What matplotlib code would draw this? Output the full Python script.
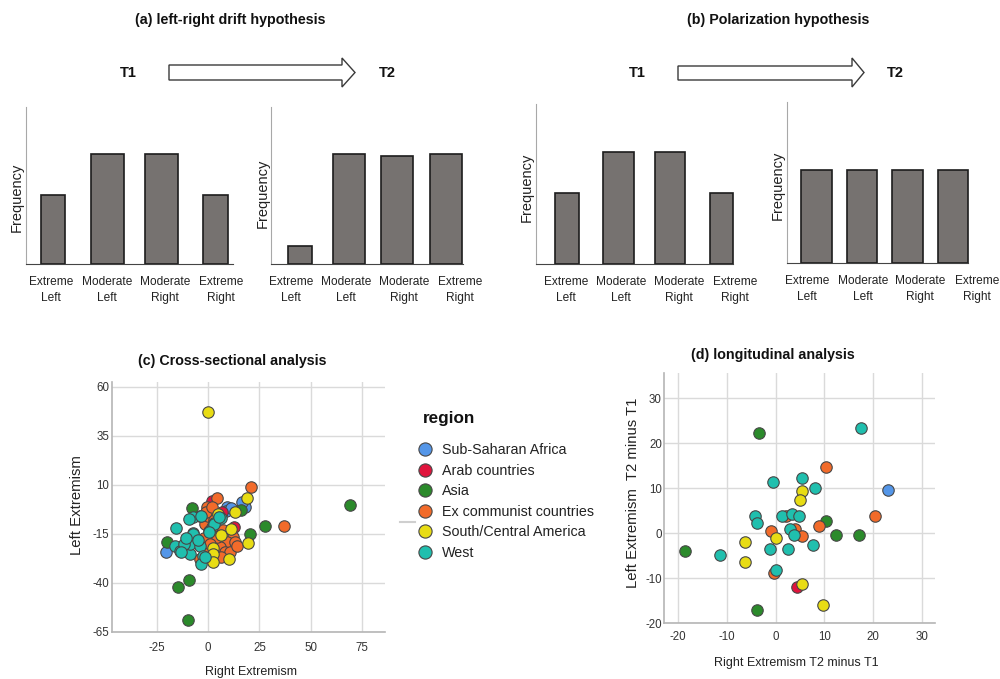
import matplotlib
matplotlib.use('Agg')
import matplotlib.pyplot as plt
from matplotlib.lines import Line2D
from matplotlib.patches import Polygon

W, H = 1000, 679
SANS = ['Liberation Sans', 'DejaVu Sans']
plt.rcParams['font.family'] = SANS
plt.rcParams['axes.unicode_minus'] = False

# ---------------- data ----------------
categories = ['Extreme\nLeft', 'Moderate\nLeft', 'Moderate\nRight', 'Extreme\nRight']
drift_t1 = [69, 110, 110, 69]
drift_t2 = [18, 110, 108, 110]
polar_t1 = [71, 112, 112, 71]
polar_t2 = [93, 93, 93, 93]

regions = ['Sub-Saharan Africa', 'Arab countries', 'Asia', 'Ex communist countries',
           'South/Central America', 'West']
region_colors = ['#5496e8', '#e0143c', '#2b8a2b', '#f26b2a', '#e8dc14', '#20bfae']

# (c) cross-sectional: (right extremism, left extremism)
cross_africa = [(9, -1), (18, -1), (-20.5, -24.3), (16.5, 1.5), (8.5, -3.5), (11, -2)]
cross_arab = [(2, 2), (6.6, -3.6), (3.4, -18.4), (12.5, -11.5), (5, -16)]
cross_asia = [(-8, -2), (15.9, -2.9), (20.5, -15.1), (27.8, -10.9), (69, 0), (-20.2, -19.3),
              (-9.6, -38.7), (-14.9, -42.1), (-10, -59)]
cross_excom = [(4.2, 3.1), (21, 9), (-0.7, -1.2), (37, -11), (-1.5, -10), (1.8, -11.7),
               (12.3, -16.8), (9.1, -19.3), (13.1, -19.3), (5.8, -21.8), (8.3, -24.4),
               (-3.9, -27.7), (-1.5, -24.4), (10.7, -24.4), (4.2, -16.8), (0, -6), (3, -8),
               (7, -13), (-2, -17), (1, -20), (6, -27), (14, -21), (-1, -4), (2, -1)]
cross_samerica = [(0, 47), (18.8, 3.5), (13.3, -4.0), (6.3, -15.5), (10.9, -12.6),
                  (19.3, -19.6), (2.3, -22), (2.4, -25.4), (2.3, -29.2), (10.2, -28),
                  (4.7, -4.6)]
cross_west = [(-3.9, -5.8), (-7.5, -6.6), (-15.6, -12), (2.6, -9.5), (6.2, -7), (0.2, -13.4),
              (-7.5, -14.7), (-16.1, -21), (-13.7, -23.5), (-9.1, -25.2), (-9.1, -20.1),
              (-3.9, -21), (-2.3, -26), (-3.6, -30.3), (-12, -20.1), (-3.4, -5.8), (2.8, -9.7),
              (5.4, -6.6), (0.3, -13.8), (-7.3, -15.2), (-13.5, -24), (-1.6, -26.8),
              (-9.6, -7.6), (-5, -18), (-11, -17)]

# (d) longitudinal: (right T2-T1, left T2-T1)
long_africa = [(22.9, 9.6)]
long_arab = [(4.4, -12.0)]
long_asia = [(-18.6, -3.9), (-3.4, 22.2), (-3.8, -17.0), (10.3, 2.7), (12.3, -0.4), (17.1, -0.4)]
long_excom = [(-1.0, 0.4), (-0.4, -8.9), (2.2, 3.7), (4.0, 1.0), (5.4, -0.7), (10.3, 14.7),
              (8.9, 1.6), (20.4, 3.8)]
long_samerica = [(-6.3, -2.0), (-6.3, -6.4), (0, -1.0), (5.5, 9.3), (4.9, 7.3), (5.4, -11.4),
                 (9.8, -16.1)]
long_west = [(-11.3, -4.8), (-4.2, 3.7), (-3.7, 2.2), (-0.6, 11.3), (-1.1, -3.6), (0.1, -8.3),
             (1.4, 3.9), (3.3, 4.3), (4.7, 3.7), (3.0, 0.8), (3.7, -0.5), (2.5, -3.6),
             (5.4, 12.3), (8.1, 10.1), (7.6, -2.6), (17.5, 23.3)]

cross_groups = [cross_africa, cross_arab, cross_asia, cross_excom, cross_samerica, cross_west]
long_groups = [long_africa, long_arab, long_asia, long_excom, long_samerica, long_west]

# ---------------- figure ----------------
fig = plt.figure(figsize=(W / 100, H / 100), dpi=100)


def px_ax(l, t, r, b):
    return fig.add_axes([l / W, 1 - b / H, (r - l) / W, (b - t) / H])


def ftext(x, y, s, **kw):
    kw.setdefault('ha', 'center')
    kw.setdefault('va', 'center')
    return fig.text(x / W, 1 - y / H, s, **kw)


def block_arrow(x0, xh, xt, yb1, yb2, yh1, yh2):
    ym = (yh1 + yh2) / 2
    pts = [(x0, yb1), (xh, yb1), (xh, yh1), (xt, ym), (xh, yh2), (xh, yb2), (x0, yb2)]
    fig.add_artist(Polygon([(x / W, 1 - y / H) for x, y in pts], closed=True,
                           facecolor='white', edgecolor='#3a3a3a', lw=1.0,
                           transform=fig.transFigure))


# Bar panels (hypotheses) -- layout in pixels:
# (values, spine left, spine right, top, bottom, first/last bar centre, widths, label centres)
bar_panels = [
    (drift_t1, 26, 233, 107, 264, (53, 215.5), [0.46, 0.61, 0.61, 0.46], [51, 107, 165, 221]),
    (drift_t2, 271, 463, 107, 264, (300, 446), [0.49, 0.66, 0.66, 0.66], [291, 346, 404, 460]),
    (polar_t1, 536, 733, 104, 264, (567, 721.5), [0.47, 0.60, 0.58, 0.45], [566, 621, 679, 735]),
    (polar_t2, 787, 968, 102, 263, (816.5, 953), [0.68, 0.68, 0.68, 0.68], [807, 863, 920, 977]),
]
for vals, sl, sr, top, bot, (c0, c3), wd, lab_px in bar_panels:
    unit = (c3 - c0) / 3.0

    def to_x(p, c0=c0, unit=unit):
        return (p - c0) / unit

    right = max(sr, lab_px[-1] + 25)
    ax = px_ax(sl, top, right, bot)
    ax.bar(range(len(vals)), vals, width=wd, color='#767270', edgecolor='#1c1c1c', lw=1.2)
    ax.set_xlim(to_x(sl), to_x(right))
    ax.set_ylim(0, bot - top)
    ax.set_xticks([to_x(p) for p in lab_px])
    ax.set_xticklabels(categories, fontsize=8.6, color='#222', linespacing=1.45)
    ax.tick_params(axis='x', length=0, pad=8.5)
    ax.set_yticks([])
    for s in ('top', 'right'):
        ax.spines[s].set_visible(False)
    ax.spines['left'].set_color('#a8a8a8')
    ax.spines['bottom'].set_color('#444444')
    ax.spines['bottom'].set_bounds(to_x(sl), to_x(sr))
    ax.patch.set_alpha(0)

for x, y in [(17, 197), (263, 193), (527, 187), (778, 185)]:
    ftext(x, y, 'Frequency', rotation=90, fontsize=10.5, color='#222')

ftext(230, 20, '(a) left-right drift hypothesis', fontsize=10.3, fontweight='bold', color='#111')
ftext(778, 20, '(b) Polarization hypothesis', fontsize=10.3, fontweight='bold', color='#111')
ftext(128, 73, 'T1', fontsize=10.5, fontweight='bold', color='#111')
ftext(387, 73, 'T2', fontsize=10.5, fontweight='bold', color='#111')
ftext(637, 73, 'T1', fontsize=10.5, fontweight='bold', color='#111')
ftext(895, 73, 'T2', fontsize=10.5, fontweight='bold', color='#111')

block_arrow(169, 342, 355, 65, 80, 58, 87)
block_arrow(678, 852, 864, 66, 80, 58, 87)


def style_scatter_ax(ax, xpad, ypad):
    ax.grid(True, color='#dadada', lw=1)
    ax.set_axisbelow(True)
    for s in ('top', 'right'):
        ax.spines[s].set_visible(False)
    for s in ('left', 'bottom'):
        ax.spines[s].set_color('#b5b5b5')
        ax.spines[s].set_linewidth(1.2)
    ax.tick_params(length=0, labelsize=8.3, labelcolor='#333')
    ax.tick_params(axis='x', pad=xpad)
    ax.tick_params(axis='y', pad=ypad)
    ax.patch.set_alpha(0)


# (c) Cross-sectional
ax_c = px_ax(112, 382, 385, 632)
for pts, col in zip(cross_groups, region_colors):
    xs, ys = zip(*pts)
    ax_c.scatter(xs, ys, s=68, c=col, edgecolors='#474747', linewidths=0.8, zorder=3)
ax_c.set_xlim(-46.9, 86.2)
ax_c.set_ylim(-65, 62.5)
ax_c.set_xticks([-25, 0, 25, 50, 75])
ax_c.set_yticks([-65, -40, -15, 10, 35, 60])
style_scatter_ax(ax_c, 7, 2)
ftext(232, 361, '(c) Cross-sectional analysis', fontsize=10.3, fontweight='bold', color='#111')
ftext(251, 672, 'Right Extremism', fontsize=9, color='#222')
ftext(77, 505, 'Left Extremism', rotation=90, fontsize=10.7, color='#222')

# (d) Longitudinal
ax_d = px_ax(664, 373, 935, 623)
for pts, col in zip(long_groups, region_colors):
    xs, ys = zip(*pts)
    ax_d.scatter(xs, ys, s=68, c=col, edgecolors='#474747', linewidths=0.8, zorder=3)
ax_d.set_xlim(-22.8, 32.6)
ax_d.set_ylim(-20, 35.6)
ax_d.set_xticks([-20, -10, 0, 10, 20, 30])
ax_d.set_yticks([-20, -10, 0, 10, 20, 30])
style_scatter_ax(ax_d, 6, 1.5)
ftext(773, 355, '(d) longitudinal analysis', fontsize=10.3, fontweight='bold', color='#111')
ftext(796, 663, 'Right Extremism T2 minus T1', fontsize=9, color='#222')
ftext(633, 493, 'Left Extremism  T2 minus T1', rotation=90, fontsize=10.7, color='#222')

# Legend
ftext(423, 418, 'region', ha='left', fontsize=12.3, fontweight='bold', color='#111')
handles = [Line2D([], [], ls='', marker='o', ms=9.5, mfc=c, mec='#474747', mew=0.8)
           for c in region_colors]
leg = fig.legend(handles, regions, loc='upper left', bbox_to_anchor=(418 / W, 1 - 443 / H),
                 frameon=False, fontsize=10.3, handlelength=1.0, handletextpad=0.65,
                 labelspacing=0.46, borderpad=0, borderaxespad=0)
for t in leg.get_texts():
    t.set_color('#222')

fig.add_artist(Line2D([400 / W, 415 / W], [1 - 521.7 / H, 1 - 521.7 / H],
                      color='#cfcfcf', lw=1.5, transform=fig.transFigure))

fig.savefig('out.png', dpi=100)
